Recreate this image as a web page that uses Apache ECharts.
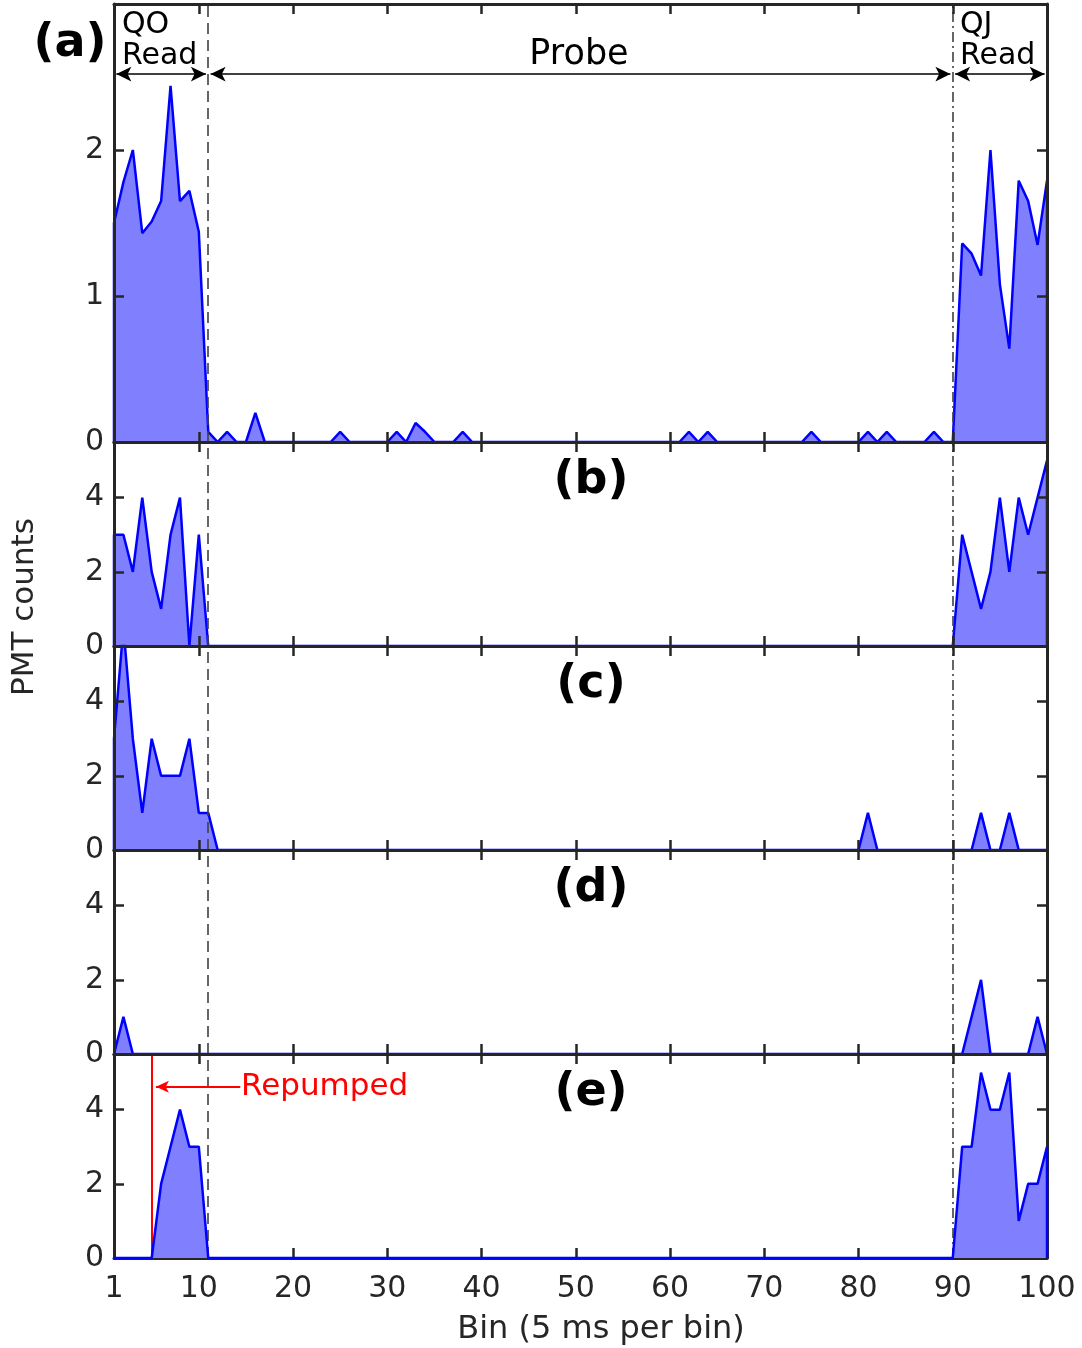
<!DOCTYPE html>
<html><head><meta charset="utf-8">
<script src="https://cdn.jsdelivr.net/npm/echarts@6/dist/echarts.min.js"></script>
<style>html,body{margin:0;padding:0;background:#fff}#c{width:1082px;height:1348px}</style>
</head><body><div id="c"></div><script>
// ---- data ----
const bins = Array.from({length: 100}, (_, i) => i + 1);
const xTicks = [1, 10, 20, 30, 40, 50, 60, 70, 80, 90, 100];
const yTicksA = [0, 1, 2];
const yTicksOther = [0, 2, 4];
const panelLabels = ['(a)', '(b)', '(c)', '(d)', '(e)'];

const countsA = [
  1.50,1.78,2.00,1.43,1.51,1.65,2.44,1.65,1.72,1.44,
  0.07,0,0.07,0,0,0.20,0,0,0,0,
  0,0,0,0,0.07,0,0,0,0,0,
  0.07,0,0.13,0.07,0,0,0,0.07,0,0,
  0,0,0,0,0,0,0,0,0,0,
  0,0,0,0,0,0,0,0,0,0,
  0,0.07,0,0.07,0,0,0,0,0,0,
  0,0,0,0,0.07,0,0,0,0,0,
  0.07,0,0.07,0,0,0,0,0.07,0,0,
  1.36,1.29,1.14,2.00,1.08,0.64,1.79,1.65,1.35,1.79
];
const countsB = [
  3,3,2,4,2,1,3,4,0,3,
  0,0,0,0,0,0,0,0,0,0,
  0,0,0,0,0,0,0,0,0,0,
  0,0,0,0,0,0,0,0,0,0,
  0,0,0,0,0,0,0,0,0,0,
  0,0,0,0,0,0,0,0,0,0,
  0,0,0,0,0,0,0,0,0,0,
  0,0,0,0,0,0,0,0,0,0,
  0,0,0,0,0,0,0,0,0,0,
  3,2,1,2,4,2,4,3,4,5
];
const countsC = [
  3,6,3,1,3,2,2,2,3,1,
  1,0,0,0,0,0,0,0,0,0,
  0,0,0,0,0,0,0,0,0,0,
  0,0,0,0,0,0,0,0,0,0,
  0,0,0,0,0,0,0,0,0,0,
  0,0,0,0,0,0,0,0,0,0,
  0,0,0,0,0,0,0,0,0,0,
  0,0,0,0,0,0,0,0,0,0,
  1,0,0,0,0,0,0,0,0,0,
  0,0,1,0,0,1,0,0,0,0
];
const countsD = [
  0,1,0,0,0,0,0,0,0,0,
  0,0,0,0,0,0,0,0,0,0,
  0,0,0,0,0,0,0,0,0,0,
  0,0,0,0,0,0,0,0,0,0,
  0,0,0,0,0,0,0,0,0,0,
  0,0,0,0,0,0,0,0,0,0,
  0,0,0,0,0,0,0,0,0,0,
  0,0,0,0,0,0,0,0,0,0,
  0,0,0,0,0,0,0,0,0,0,
  0,1,2,0,0,0,0,0,1,0
];
const countsE = [
  0,0,0,0,0,2,3,4,3,3,
  0,0,0,0,0,0,0,0,0,0,
  0,0,0,0,0,0,0,0,0,0,
  0,0,0,0,0,0,0,0,0,0,
  0,0,0,0,0,0,0,0,0,0,
  0,0,0,0,0,0,0,0,0,0,
  0,0,0,0,0,0,0,0,0,0,
  0,0,0,0,0,0,0,0,0,0,
  0,0,0,0,0,0,0,0,0,0,
  3,3,5,4,4,5,1,2,2,3
];
const panels = [countsA, countsB, countsC, countsD, countsE];
const yMax = [3, 5.5, 5.5, 5.5, 5.5];
const qoEnd = 11;       // dashed line (end of QO read)
const qjStart = 90;     // dash-dot line (start of QJ read)
const repumpBin = 5;    // red repump marker
const arrowLevel = 2.52;
const arrowSpans = [[1.25, 10.75], [11.25, 89.75], [90.25, 99.75]];
const repumpArrow = [[14.4, 4.62], [5.45, 4.62]];

// ---- layout ----
const FONT = 'DejaVu Sans';
const INK = '#262626';
const tops = [4, 442, 646, 850, 1054];
const heights = [438, 204, 204, 204, 204];
const L = 114, W = 933;

const grid = [], xAxis = [], yAxis = [], series = [];
panels.forEach((vals, i) => {
  grid.push({left: L, width: W, top: tops[i], height: heights[i], show: false});
  const lineStyle = {color: INK, width: 3};
  const tick = {show: true, inside: true, length: 10, lineStyle: {color: INK, width: 2.5}};
  xAxis.push({gridIndex: i, type: 'value', min: 1, max: 100, position: 'bottom', z: i < 4 ? 5 : 0,
    axisLine: {show: true, onZero: false, lineStyle},
    axisTick: Object.assign({customValues: xTicks}, tick),
    axisLabel: {show: i === 4, customValues: xTicks, fontSize: 30, color: INK, fontFamily: FONT, margin: 16},
    splitLine: {show: false}});
  xAxis.push({gridIndex: i, type: 'value', min: 1, max: 100, position: 'top', z: 5,
    axisLine: {show: true, onZero: false, lineStyle},
    axisTick: Object.assign({customValues: xTicks}, tick),
    axisLabel: {show: false}, splitLine: {show: false}});
  const yt = i === 0 ? yTicksA : yTicksOther;
  yAxis.push({gridIndex: i, type: 'value', min: 0, max: yMax[i], position: 'left', z: 5,
    axisLine: {show: true, onZero: false, lineStyle},
    axisTick: Object.assign({customValues: yt}, tick),
    axisLabel: {customValues: yt, fontSize: 30, color: INK, fontFamily: FONT, margin: 10},
    splitLine: {show: false}});
  yAxis.push({gridIndex: i, type: 'value', min: 0, max: yMax[i], position: 'right', z: 5,
    axisLine: {show: true, onZero: false, lineStyle},
    axisTick: Object.assign({customValues: yt}, tick),
    axisLabel: {show: false}, splitLine: {show: false}});

  const data = [[bins[0], 0]].concat(bins.map((b, k) => [b, vals[k]])).concat([[bins[bins.length - 1], 0]]);
  series.push({
    type: 'line', xAxisIndex: 2 * i, yAxisIndex: 2 * i, data, z: i < 4 ? 1 : 6,
    showSymbol: false, symbol: 'none', animation: false,
    lineStyle: {color: '#0000ff', width: 2.5},
    itemStyle: {color: '#0000ff'},
    areaStyle: {color: '#8080ff', opacity: 1},
    markLine: {silent: true, symbol: 'none', animation: false, label: {show: false},
      data: [
        {xAxis: qoEnd, lineStyle: {type: [11, 6], color: '#404040', width: 1.6}},
        {xAxis: qjStart, lineStyle: {type: [10, 4, 2, 4], color: '#404040', width: 1.6}}
      ]}
  });
});

// arrows in panel (a)
series.push({type: 'line', xAxisIndex: 0, yAxisIndex: 0, data: [], animation: false,
  markLine: {silent: true, animation: false, symbol: ['arrow', 'arrow'], symbolSize: [11, 15],
    label: {show: false}, lineStyle: {color: '#000', width: 1.6, type: 'solid'},
    data: arrowSpans.map(s => [{coord: [s[0], arrowLevel]}, {coord: [s[1], arrowLevel]}])}});
// repump marker in panel (e)
series.push({type: 'line', xAxisIndex: 8, yAxisIndex: 8, data: [], animation: false, z: 7,
  markLine: {silent: true, animation: false, symbol: 'none', label: {show: false},
    data: [{xAxis: repumpBin, lineStyle: {color: '#ff0000', width: 2, type: 'solid'}}]}});
series.push({type: 'line', xAxisIndex: 8, yAxisIndex: 8, data: [], animation: false, z: 7,
  markLine: {silent: true, animation: false, symbol: ['none', 'arrow'], symbolSize: [9, 13],
    label: {show: false}, lineStyle: {color: '#ff0000', width: 2, type: 'solid'},
    data: [[{coord: repumpArrow[0]}, {coord: repumpArrow[1]}]]}});

function txt(text, x, y, size, opts) {
  opts = opts || {};
  return {type: 'text', x, y, rotation: opts.rotation || 0, z: 10,
    style: {text, fill: opts.color || '#000', font: (opts.bold ? 'bold ' : '') + size + 'px "' + FONT + '"',
      align: opts.align || 'center', verticalAlign: 'middle'}};
}
const panelLabelPos = [[70, 44], [591, 481], [591, 685], [591, 889], [591, 1093]];
const graphic = panelLabels.map((t, i) => txt(t, panelLabelPos[i][0], panelLabelPos[i][1], 46, {bold: true}));
graphic.push(txt('QO', 122, 25, 30, {align: 'left'}));
graphic.push(txt('Read', 122, 56, 30, {align: 'left'}));
graphic.push(txt('Probe', 579, 55, 35));
graphic.push(txt('QJ', 960, 25, 30, {align: 'left'}));
graphic.push(txt('Read', 960, 56, 30, {align: 'left'}));
graphic.push(txt('Repumped', 241, 1087, 31, {align: 'left', color: '#ff0000'}));
graphic.push(txt('PMT counts', 25, 607, 31, {rotation: Math.PI / 2, color: INK}));
graphic.push(txt('Bin (5 ms per bin)', 601, 1330, 32, {color: INK}));

const chart = echarts.init(document.getElementById('c'), null, {renderer: 'canvas'});
chart.setOption({animation: false, backgroundColor: '#fff', grid, xAxis, yAxis, series, graphic});
</script></body></html>
